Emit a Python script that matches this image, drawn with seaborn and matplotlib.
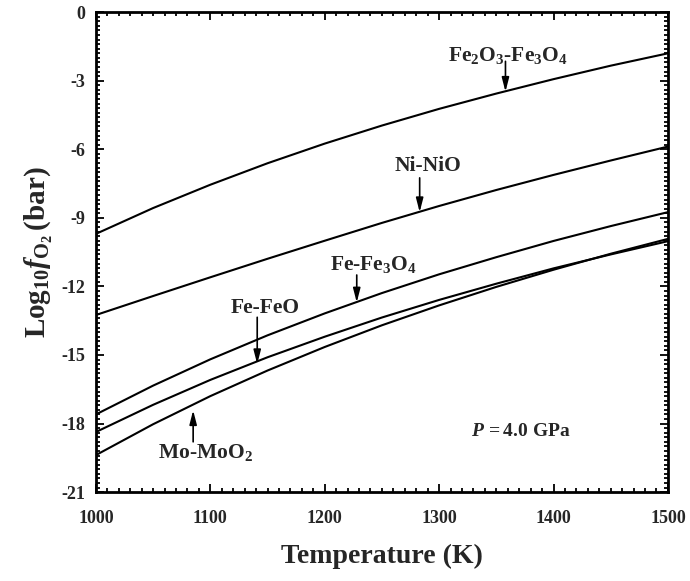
import matplotlib
matplotlib.use("Agg")
import matplotlib.pyplot as plt
from matplotlib.ticker import MultipleLocator
import numpy as np
import pandas as pd
import seaborn as sns

# ---- data ----
temperature = [1000, 1050, 1100, 1150, 1200, 1250, 1300, 1350, 1400, 1450, 1500]
fe2o3_fe3o4 = [-9.70, -8.57, -7.55, -6.61, -5.75, -4.96, -4.23, -3.56, -2.93, -2.34, -1.80]
ni_nio      = [-13.25, -12.42, -11.60, -10.79, -10.00, -9.22, -8.48, -7.78, -7.12, -6.49, -5.88]
fe_fe3o4    = [-17.60, -16.34, -15.19, -14.14, -13.18, -12.29, -11.47, -10.72, -10.01, -9.36, -8.75]
fe_feo      = [-18.37, -17.18, -16.09, -15.10, -14.20, -13.36, -12.59, -11.88, -11.21, -10.60, -10.02]
mo_moo2     = [-19.38, -18.03, -16.80, -15.68, -14.65, -13.70, -12.83, -12.02, -11.27, -10.57, -9.92]

series_names = ["Fe2O3-Fe3O4", "Ni-NiO", "Fe-Fe3O4", "Fe-FeO", "Mo-MoO2"]
series_values = [fe2o3_fe3o4, ni_nio, fe_fe3o4, fe_feo, mo_moo2]

x_ticks = [1000, 1100, 1200, 1300, 1400, 1500]
y_ticks = [0, -3, -6, -9, -12, -15, -18, -21]

rows = []
for name, vals in zip(series_names, series_values):
    for t, v in zip(temperature, vals):
        rows.append({"T": t, "logfO2": v, "buffer": name})
df = pd.DataFrame(rows)

# ---- style ----
sns.set_theme(style="ticks")
plt.rcParams["font.family"] = ["Liberation Serif", "DejaVu Serif"]
plt.rcParams["font.weight"] = "bold"
plt.rcParams["mathtext.fontset"] = "custom"
plt.rcParams["mathtext.rm"] = "Liberation Serif:bold"
plt.rcParams["mathtext.bf"] = "Liberation Serif:bold"
plt.rcParams["mathtext.it"] = "Liberation Serif:bold:italic"
plt.rcParams["axes.unicode_minus"] = False

fig = plt.figure(figsize=(6.9, 5.81), dpi=100)
ax = fig.add_axes([0.139, 0.153, 0.829, 0.826])

sns.lineplot(data=df, x="T", y="logfO2", hue="buffer", units="buffer",
             estimator=None, palette=["black"] * 5, legend=False,
             linewidth=1.5, ax=ax)

ax.set_xlim(1000, 1500)
ax.set_ylim(-21, 0)
ax.set_xticks(x_ticks)
ax.set_yticks(y_ticks)
ax.set_xticklabels([str(v) for v in x_ticks], fontsize=13, fontweight="bold")
ax.set_yticklabels([str(v) for v in y_ticks], fontsize=13, fontweight="bold")
ax.xaxis.set_minor_locator(MultipleLocator(10))
ax.yaxis.set_minor_locator(MultipleLocator(0.2))
ax.tick_params(which="both", direction="in", top=True, right=True, color="black", width=1.3)
ax.tick_params(which="major", length=6)
ax.tick_params(axis="x", which="major", pad=13)
ax.tick_params(axis="y", which="major", pad=8)
ax.tick_params(which="minor", length=3)
for s in ax.spines.values():
    s.set_linewidth(2)
    s.set_color("black")

ax.set_xlabel("Temperature (K)", fontsize=20, fontweight="bold", labelpad=12)
ax.set_ylabel(r"$\mathrm{Log_{10}}\mathit{f}_{\mathrm{O_2}}\,\mathrm{(bar)}$", fontsize=21, labelpad=4)

arrow_kw = dict(arrowstyle="-|>,head_length=0.7,head_width=0.18", color="black", lw=1.2,
                shrinkA=0, shrinkB=0)
labels = [
    (r"$\mathrm{Fe}_{\mathrm{2}}\mathrm{O}_{\mathrm{3}}$-$\mathrm{Fe}_{\mathrm{3}}\mathrm{O}_{\mathrm{4}}$",
     (1360, -1.9), (1358, -2.15), (1358, -3.48)),
    ("Ni-NiO", (1290, -6.75), (1283, -7.25), (1283, -8.75)),
    (r"Fe-$\mathrm{Fe}_{\mathrm{3}}\mathrm{O}_{\mathrm{4}}$", (1243, -11.05), (1228, -11.5), (1228, -12.7)),
    ("Fe-FeO", (1148, -12.95), (1141, -13.35), (1141, -15.4)),
    (r"Mo-$\mathrm{MoO}_{\mathrm{2}}$", (1096, -19.25), (1085, -18.8), (1085, -17.42)),
]
for text, tpos, astart, aend in labels:
    ax.text(tpos[0], tpos[1], text, ha="center", va="center", fontsize=15.5, fontweight="bold")
    ax.annotate("", xy=aend, xytext=astart, arrowprops=arrow_kw)

ax.text(1371, -18.35, r"$\mathit{P}\,\mathrm{=4.0\ GPa}$", ha="center", va="center", fontsize=14)

fig.savefig("out.png", dpi=100)
